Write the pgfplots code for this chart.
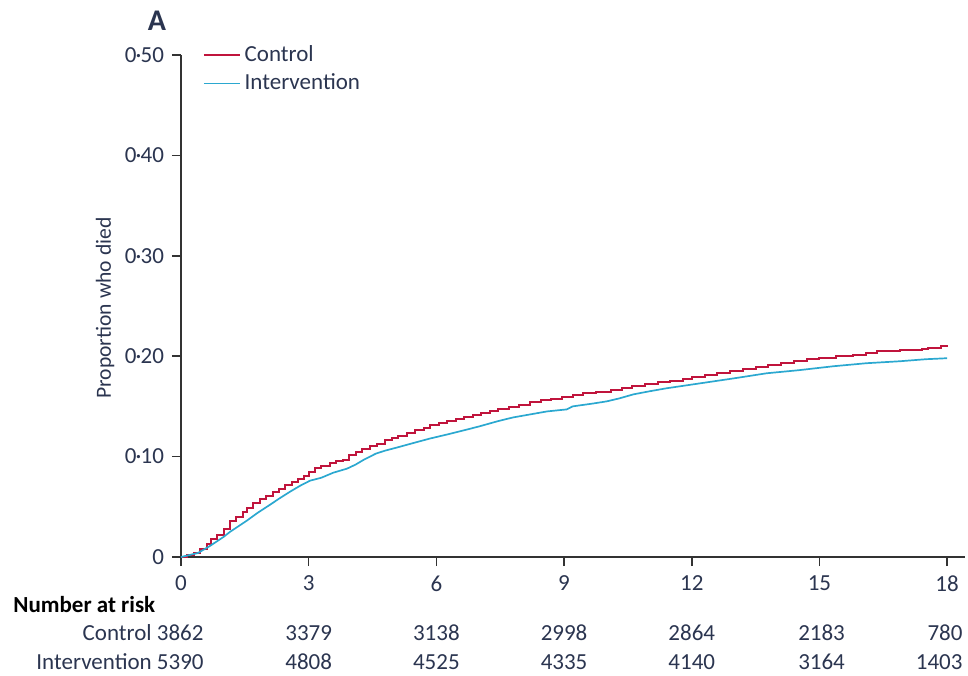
\documentclass[border=0pt]{standalone}
\usepackage{pgfplots}
\pgfplotsset{compat=1.18}
\usepackage{fontspec}
\setmainfont{Carlito}
\definecolor{ctrl}{HTML}{C0143C}
\definecolor{intv}{HTML}{2BA8D0}
\definecolor{txt}{HTML}{2B3550}
\definecolor{axc}{HTML}{333333}
\newcommand{\md}{\kern-0.4pt·\kern-0.4pt}
\tikzset{
  rowlab/.style={anchor=base east, text=txt, inner sep=0pt},
  rowval/.style={anchor=base, text=txt, inner sep=0pt},
}
\begin{document}
\fontsize{11.5}{13.5}\selectfont
\begin{tikzpicture}
\begin{axis}[
  scale only axis, width=392pt, height=251pt,
  xmin=0, xmax=18.42, ymin=0, ymax=0.5,
  axis lines*=left, axis line style={axc, line width=0.75pt},
  separate axis lines,
  x axis line style={-}, y axis line style={-},
  tick style={axc, line width=0.75pt},
  tick align=outside, major tick length=4.5pt,
  xtick={0,3,6,9,12,15,18}, xticklabels={0,3,6,9,12,15,18},
  ytick={0,0.1,0.2,0.3,0.4,0.5},
  yticklabels={0,0\md10,0\md20,0\md30,0\md40,0\md50},
  ticklabel style={text=txt, font=\fontsize{11.5}{13.5}\selectfont},
  xticklabel style={yshift=-1pt},
  clip=false,
  legend cell align=left,
  legend style={draw=none, fill=none, at={(rel axis cs:0.02,1)}, anchor=north west, yshift=9pt,
    font=\fontsize{11.5}{13.5}\selectfont, text=txt, row sep=0.5pt},
  legend image code/.code={\draw[#1, line width=0.8pt] (0pt,0pt) -- (18pt,0pt);},
]
\addplot[const plot, ctrl, line width=1pt] coordinates {
(0,0) (0.15,0.002) (0.3,0.004) (0.45,0.008) (0.6,0.013) (0.7,0.018) (0.85,0.022) (1.0,0.028)
(1.15,0.036) (1.3,0.040) (1.45,0.045) (1.55,0.049) (1.7,0.054) (1.85,0.058) (2.0,0.061)
(2.15,0.065) (2.3,0.068) (2.45,0.072) (2.6,0.075) (2.75,0.078) (2.9,0.081) (3.0,0.085)
(3.15,0.089) (3.3,0.091) (3.5,0.094) (3.65,0.096) (3.8,0.097) (3.95,0.102) (4.1,0.105)
(4.25,0.108) (4.45,0.111) (4.6,0.113) (4.8,0.117) (4.95,0.119) (5.1,0.121) (5.3,0.124)
(5.5,0.126) (5.7,0.128) (5.85,0.131) (6.05,0.133) (6.25,0.135) (6.45,0.137) (6.65,0.139)
(6.85,0.141) (7.05,0.143) (7.25,0.145) (7.45,0.147) (7.7,0.149) (7.95,0.151) (8.2,0.154)
(8.45,0.156) (8.7,0.157) (8.95,0.159) (9.2,0.161) (9.45,0.163) (9.75,0.164) (10.1,0.166)
(10.35,0.168) (10.6,0.170) (10.9,0.172) (11.2,0.174) (11.5,0.175) (11.8,0.177) (12.0,0.179)
(12.3,0.181) (12.6,0.183) (12.9,0.185) (13.2,0.187) (13.5,0.189) (13.8,0.191) (14.1,0.193)
(14.4,0.195) (14.7,0.197) (15.0,0.198) (15.4,0.200) (15.8,0.201) (16.1,0.203) (16.35,0.205)
(16.9,0.206) (17.4,0.207) (17.55,0.208) (17.85,0.210) (18.0,0.211)
};
\addlegendentry{Control}
\addplot[intv, line width=0.85pt] coordinates {
(0,0) (0.2,0.002) (0.4,0.004) (0.68,0.011) (1.0,0.020) (1.15,0.025) (1.54,0.036) (1.8,0.044)
(2.09,0.052) (2.3,0.058) (2.56,0.065) (2.8,0.071) (3.03,0.076) (3.3,0.079) (3.58,0.084)
(3.9,0.088) (4.1,0.092) (4.3,0.097) (4.58,0.103) (4.8,0.106) (5.07,0.109) (5.5,0.114)
(5.85,0.118) (6.25,0.122) (6.63,0.126) (7.0,0.130) (7.42,0.135) (7.8,0.139) (8.2,0.142)
(8.6,0.145) (9.06,0.147) (9.2,0.150) (9.7,0.153) (10.0,0.155) (10.3,0.158) (10.63,0.162)
(11.0,0.165) (11.4,0.168) (12.2,0.173) (13.0,0.178) (13.76,0.183) (14.5,0.186) (15.33,0.190)
(16.1,0.193) (16.9,0.195) (17.5,0.197) (18.0,0.198)
};
\addlegendentry{Intervention}
% labels
\path (rel axis cs:0,0.5) ++(-38pt,-1pt) node[rotate=90, text=txt, font=\fontsize{10.8}{12.8}\selectfont] {Proportion who died};
\path (rel axis cs:0,1) ++(-12pt,12pt) node[anchor=base, font=\fontsize{15}{17}\selectfont\bfseries, text=txt] {A};
\path (axis cs:0,0) ++(-84pt,-27.5pt) node[anchor=base west, inner sep=0pt, font=\fontsize{11.5}{13.5}\selectfont\bfseries, text=black] {Number at risk};
% control row
\node[rowlab] at (axis cs:0.54,0) [yshift=-41.5pt] {Control 3862};
\node[rowval] at (axis cs:3,0) [yshift=-41.5pt] {3379};
\node[rowval] at (axis cs:6,0) [yshift=-41.5pt] {3138};
\node[rowval] at (axis cs:9,0) [yshift=-41.5pt] {2998};
\node[rowval] at (axis cs:12,0) [yshift=-41.5pt] {2864};
\node[rowval] at (axis cs:15.05,0) [yshift=-41.5pt] {2183};
\node[rowlab] at (axis cs:18.37,0) [yshift=-41.5pt] {780};
% intervention row
\node[rowlab] at (axis cs:0.54,0) [yshift=-56pt] {Intervention 5390};
\node[rowval] at (axis cs:3,0) [yshift=-56pt] {4808};
\node[rowval] at (axis cs:6,0) [yshift=-56pt] {4525};
\node[rowval] at (axis cs:9,0) [yshift=-56pt] {4335};
\node[rowval] at (axis cs:12,0) [yshift=-56pt] {4140};
\node[rowval] at (axis cs:15.05,0) [yshift=-56pt] {3164};
\node[rowlab] at (axis cs:18.37,0) [yshift=-56pt] {1403};
\end{axis}
\pgfresetboundingbox
\useasboundingbox (-90.5pt,-59pt) rectangle (393.5pt,278.5pt);
\end{tikzpicture}
\end{document}
